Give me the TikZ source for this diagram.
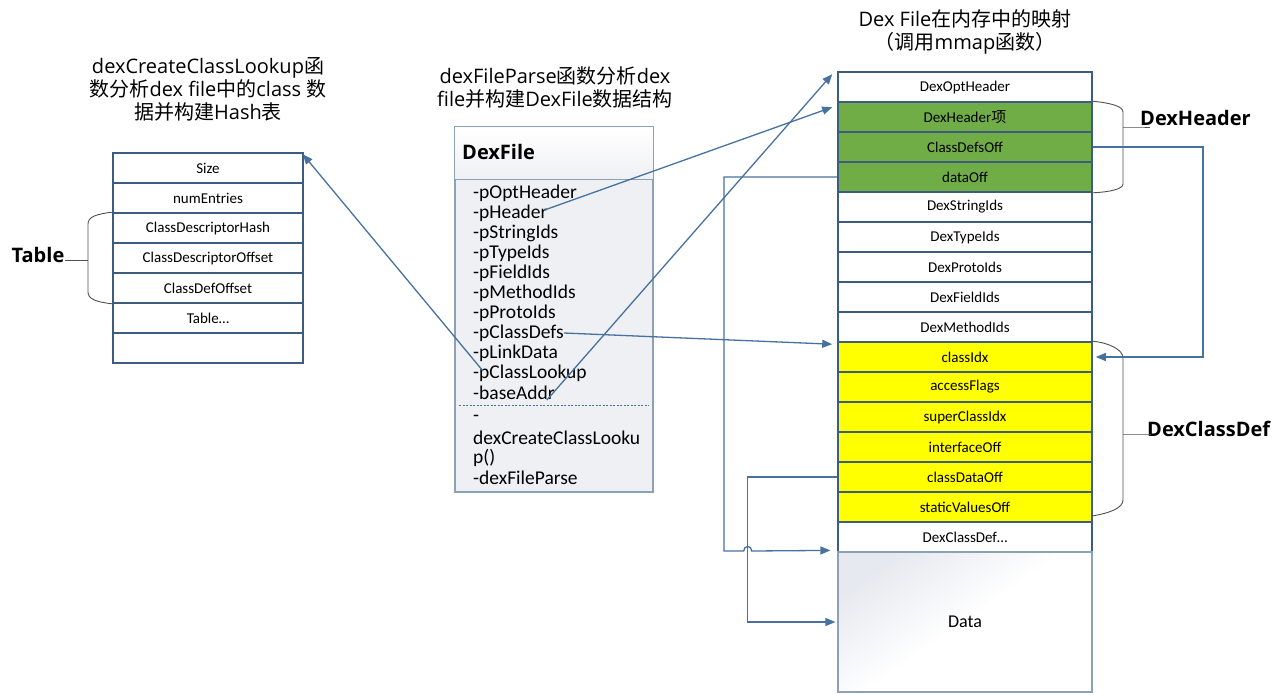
\documentclass[tikz,border=0pt]{standalone}
\usepackage{fontspec}
\setmainfont{Carlito}
\newfontfamily\osans{Open Sans}
\newfontfamily\cjk{Noto Sans CJK SC}
\newcommand\zh[1]{{\cjk #1}}
\usetikzlibrary{arrows.meta,calc}
\definecolor{boxline}{RGB}{60,92,128}
\definecolor{arrowc}{RGB}{70,113,160}
\definecolor{dgreen}{RGB}{112,173,71}
\definecolor{dyellow}{RGB}{255,255,0}
\definecolor{bracec}{RGB}{80,80,80}
\definecolor{dfline}{RGB}{140,160,182}
\definecolor{dfbody}{RGB}{239,240,243}
\definecolor{datatop}{RGB}{230,233,239}
\tikzset{
  cell/.style={draw=boxline, line width=1.6pt, minimum width=254pt, minimum height=30pt, inner sep=0pt, font=\fontsize{15}{17}\selectfont},
  tcell/.style={cell, minimum width=190pt},
  conn/.style={draw=arrowc, line width=1.3pt, -{Triangle[length=10pt,width=8pt]}},
  brace/.style={draw=bracec, line width=0.9pt},
  title/.style={align=center, font=\fontsize{20}{23}\selectfont\osans, inner sep=0pt},
  boldlbl/.style={font=\fontsize{20}{24}\selectfont\osans\bfseries, inner sep=0pt},
  item/.style={anchor=west, inner sep=0pt, font=\fontsize{19.5}{20}\selectfont}
}
\begin{document}
\begin{tikzpicture}[x=1pt,y=-1pt]
\useasboundingbox (0,0) rectangle (1282,694);
% titles
\node[title] (ttl1) at (208,89) {dexCreateClassLookup\zh{函}\\\zh{数分析}dex file\zh{中的}class \zh{数}\\\zh{据并构建}Hash\zh{表}};
\node[title] (ttl2) at (555,87) {dexFileParse\zh{函数分析}dex\\file\zh{并构建}DexFile\zh{数据结构}};
\node[title] (ttl3) at (965,32) {Dex File\zh{在内存中的映射}\\\zh{（调用}mmap\zh{函数）}};
% left table
\foreach \t [count=\i] in {Size,numEntries,ClassDescriptorHash,ClassDescriptorOffset,ClassDefOffset,Table…,{}}
  \node[tcell, fill=white] (t\i) at (208,138+30*\i) {\t};
% DexFile box
\node[draw=dfline, line width=1.2pt, fill=dfbody, minimum width=198pt, minimum height=365pt, inner sep=0pt] (dexfile) at (554,309.5) {};
\shade[top color=white, bottom color=dfbody] ($(dexfile.north west)+(0.6,0.6)$) rectangle ($(dexfile.north east)+(-0.6,53)$);
\draw[draw=dfline, line width=1.2pt] (dexfile.north west) rectangle (dexfile.south east);
\draw[draw=dfline, line width=1.2pt] ($(dexfile.north west)+(0,53)$) -- ($(dexfile.north east)+(0,53)$);
\node[boldlbl, anchor=west] (dfname) at (462,152) {DexFile};
\foreach \n [count=\i] in {pOptHeader,pHeader,pStringIds,pTypeIds,pFieldIds,pMethodIds,pProtoIds,pClassDefs,pLinkData,pClassLookup,baseAddr}
  \node[item] (\n) at (473,173+20*\i) {-\n};
\draw[draw=arrowc, line width=1pt, dash pattern=on 2pt off 1.5pt] ($(dexfile.west)+(5,95.5)$) -- ($(dexfile.east)+(-5,95.5)$);
\node[item] (m1) at (473,418) {-};
\node[item] (m2) at (473,438) {dexCreateClassLooku};
\node[item] (m3) at (473,458) {p()};
\node[item] (m4) at (473,478) {-dexFileParse};
% right column
\foreach \t/\c [count=\i] in {DexOptHeader/white,DexHeader\zh{项}/dgreen,ClassDefsOff/dgreen,dataOff/dgreen,DexStringIds/white,DexTypeIds/white,DexProtoIds/white,DexFieldIds/white,DexMethodIds/white,classIdx/dyellow,accessFlags/dyellow,superClassIdx/dyellow,interfaceOff/dyellow,classDataOff/dyellow,staticValuesOff/dyellow,DexClassDef…/white}
  \node[cell, fill=\c] (r\i) at (965,57+30*\i) {\t};
\node[draw=dfline, line width=1.2pt, top color=datatop, bottom color=white, middle color=white, shading angle=35, minimum width=254pt, minimum height=140pt, inner sep=0pt, font=\fontsize{18}{20}\selectfont] (data) at (965,622) {Data};
% braces and labels
\node[boldlbl] (tbl) at (38,255) {Table};
\draw[brace] (t3.north west) .. controls (96,214) and (88,217) .. (88,224) -- (88,292) .. controls (88,299) and (96,302) .. (t5.south west);
\coordinate (tbm) at (88,260);
\draw[brace] (tbm) -- (tbl.east |- tbm);
\node[boldlbl, anchor=west] (dhl) at (1140,118) {DexHeader};
\draw[brace] (r2.north east) .. controls (1110,103) and (1123,106) .. (1123,112) -- (1123,184) .. controls (1123,189) and (1110,192) .. (r4.south east);
\draw[brace] (1123,127) -- (dhl.west |- 0,127) -- ++(10,0);
\node[boldlbl, anchor=west] (dcl) at (1147,429) {DexClassDef};
\draw[brace] (r10.north east) .. controls (1110,343) and (1123,350) .. (1123,358) -- (1123,500) .. controls (1123,508) and (1110,513) .. (1092,516);
\draw[brace] (1123,434) -- (dcl.west |- 0,434) -- ++(4,0);
% connectors from DexFile
\draw[conn] ($(pHeader.east)+(-3,-3)$) -- ($(r2.north west)+(-5,6)$);
\draw[conn] ($(baseAddr.south east)+(-8,0)$) -- ($(r1.north west)+(-5,3)$);
\draw[conn] (pClassDefs.east) -- ($(r10.north west)+(-5,3)$);
\draw[conn] ($(pClassLookup.west)+(10,-2)$) -- ($(t1.north east)+(-1,2)$);
% internal connectors
\coordinate (rx) at (1203,0);
\draw[conn] (r3.east) -- (rx |- r3.east) -- (rx |- r10.east) -- ($(r10.east)+(3,0)$);
\coordinate (dx) at (724,551);
\coordinate (cx) at (747.7,622);
\draw[conn] (r4.west) -| (dx) -- ($(cx |- dx)+(-4,0)$) .. controls +(0,-6) and +(0,-6) .. ($(cx |- dx)+(4,0)$) -- ($(data.north west)+(-7,-1)$);
\draw[conn] (r14.west) -| (cx) -- ($(data.west)+(-2,0)$);
\end{tikzpicture}
\end{document}
